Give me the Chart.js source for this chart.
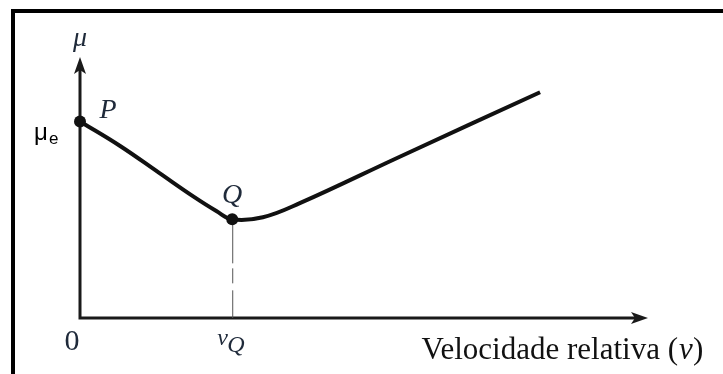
<!DOCTYPE html>
<html>
<head>
<meta charset="utf-8">
<script src="https://cdn.jsdelivr.net/npm/chart.js@4.4.1/dist/chart.umd.min.js"></script>
<style>
  html, body { margin: 0; padding: 0; background: #fff; }
  #wrap { width: 723px; height: 374px; }
</style>
</head>
<body>
<div id="wrap"><canvas id="friction-chart" width="723" height="374"></canvas></div>
<script>
// friction coefficient against relative sliding velocity
const velocity = [0, 0.7, 1.4, 2.0, 2.4, 2.68, 3.22, 3.87, 5.63, 8.10];
const friction = [7.53, 6.6, 5.55, 4.65, 4.1, 3.78, 3.86, 4.40, 6.18, 8.65];

// marked points P (static value) and Q (minimum)
const markNames = ['P', 'Q'];
const markV = [0, 2.68];
const markMu = [7.53, 3.78];

const xMax = 10;
const yMax = 10;

const serif = '"Liberation Serif", "DejaVu Serif", serif';

function arrowHead(ctx, x, y, dir) {
    // dir: 'up' or 'right'
    ctx.beginPath();
    if (dir === 'up') {
        ctx.moveTo(x, y);
        ctx.lineTo(x - 6, y + 17);
        ctx.lineTo(x, y + 13);
        ctx.lineTo(x + 6, y + 17);
    } else {
        ctx.moveTo(x, y);
        ctx.lineTo(x - 17, y - 6);
        ctx.lineTo(x - 13, y);
        ctx.lineTo(x - 17, y + 6);
    }
    ctx.closePath();
    ctx.fill();
}

const axesPlugin = {
    id: 'axesPlugin',
    beforeDatasetsDraw(chart) {
        const ctx = chart.ctx;
        const xs = chart.scales.x, ys = chart.scales.y;
        const x0 = xs.getPixelForValue(0), y0 = ys.getPixelForValue(0);
        const xEnd = xs.getPixelForValue(xMax), yEnd = ys.getPixelForValue(yMax);
        ctx.save();

        // frame around the figure
        ctx.strokeStyle = '#000';
        ctx.lineWidth = 4;
        ctx.beginPath();
        ctx.moveTo(13, 380);
        ctx.lineTo(13, 11);
        ctx.lineTo(730, 11);
        ctx.stroke();

        // axes
        ctx.strokeStyle = '#1a1a1a';
        ctx.fillStyle = '#1a1a1a';
        ctx.lineWidth = 3;
        ctx.beginPath();
        ctx.moveTo(x0, yEnd + 12);
        ctx.lineTo(x0, y0);
        ctx.lineTo(xEnd - 12, y0);
        ctx.stroke();
        arrowHead(ctx, x0, yEnd, 'up');
        arrowHead(ctx, xEnd, y0, 'right');

        // drop line from Q to the velocity axis
        const qx = xs.getPixelForValue(markV[1]);
        const qy = ys.getPixelForValue(markMu[1]);
        ctx.strokeStyle = '#555';
        ctx.lineWidth = 1;
        ctx.setLineDash([44, 5, 15, 7, 200]);
        ctx.beginPath();
        ctx.moveTo(qx + 0.5, qy);
        ctx.lineTo(qx + 0.5, y0);
        ctx.stroke();
        ctx.restore();
    },
    afterDraw(chart) {
        const ctx = chart.ctx;
        const xs = chart.scales.x, ys = chart.scales.y;
        const x0 = xs.getPixelForValue(0), y0 = ys.getPixelForValue(0);
        const yEnd = ys.getPixelForValue(yMax);
        const px = xs.getPixelForValue(markV[0]), py = ys.getPixelForValue(markMu[0]);
        const qx = xs.getPixelForValue(markV[1]), qy = ys.getPixelForValue(markMu[1]);
        ctx.save();
        ctx.fillStyle = '#1f2a3a';
        ctx.textBaseline = 'alphabetic';

        ctx.textAlign = 'center';
        ctx.font = 'italic 28px ' + serif;
        ctx.fillText('\u03bc', x0, yEnd - 11);
        ctx.fillText(markNames[0], px + 28, py - 3);
        ctx.fillText(markNames[1], qx, qy - 16);

        ctx.font = '30px ' + serif;
        ctx.fillText('0', x0 - 8, y0 + 32);

        ctx.textAlign = 'left';
        ctx.font = 'italic 24px ' + serif;
        ctx.fillText('v', qx - 15, y0 + 27);
        ctx.font = 'italic 24px ' + serif;
        ctx.fillText('Q', qx - 5, y0 + 34);

        ctx.fillStyle = '#111';
        ctx.font = '31px ' + serif;
        ctx.textAlign = 'right';
        ctx.fillText('Velocidade relativa (', 678, y0 + 41);
        ctx.font = 'italic 31px ' + serif;
        ctx.textAlign = 'left';
        ctx.fillText('v', 679, y0 + 41);
        ctx.font = '31px ' + serif;
        ctx.fillText(')', 693, y0 + 41);

        // mu_e label beside P
        ctx.fillStyle = '#000';
        ctx.font = '24px "Liberation Sans", sans-serif';
        ctx.fillText('\u03bc', 34, py + 19);
        ctx.font = '17px "Liberation Sans", sans-serif';
        ctx.fillText('e', 49, py + 23);
        ctx.restore();
    }
};

new Chart(document.getElementById('friction-chart'), {
    type: 'scatter',
    data: {
        datasets: [
            {
                label: 'marks',
                data: markV.map((v, i) => ({x: v, y: markMu[i]})),
                pointRadius: 6,
                pointBackgroundColor: '#111',
                pointBorderWidth: 0,
                showLine: false,
                clip: false,
                order: 0
            },
            {
                label: 'mu',
                data: velocity.map((v, i) => ({x: v, y: friction[i]})),
                showLine: true,
                borderColor: '#111',
                borderWidth: 4,
                pointRadius: 0,
                tension: 0.4,
                clip: false,
                order: 1
            }
        ]
    },
    options: {
        responsive: false,
        animation: false,
        layout: { padding: { left: 80, right: 75, top: 57, bottom: 56 } },
        plugins: { legend: { display: false }, tooltip: { enabled: false } },
        scales: {
            x: { type: 'linear', min: 0, max: xMax, display: false },
            y: { type: 'linear', min: 0, max: yMax, display: false }
        }
    },
    plugins: [axesPlugin]
});
</script>
</body>
</html>
